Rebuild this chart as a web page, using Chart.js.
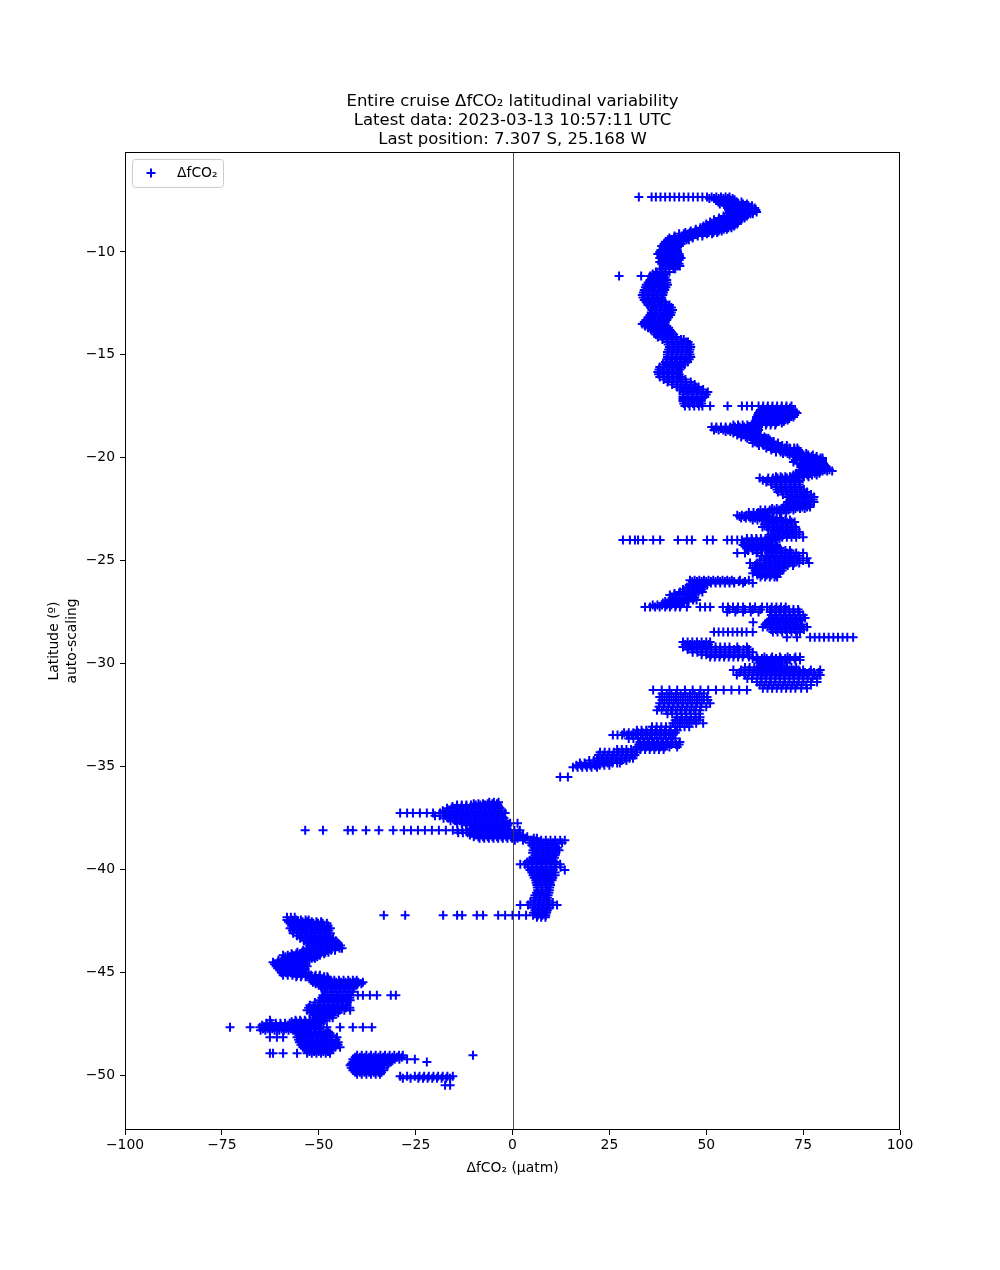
<!DOCTYPE html>
<html>
<head>
<meta charset="utf-8">
<script src="https://cdn.jsdelivr.net/npm/chart.js@4.4.1/dist/chart.umd.min.js"></script>
<style>
  html, body { margin: 0; padding: 0; background: #fff; }
  canvas { display: block; }
</style>
</head>
<body>
<canvas id="latChart" width="1000" height="1270"></canvas>
<script>
// each row: [latitude, dfCO2 values seen at that latitude ...]
const tropicsRows = [
  [-7.33, 32.6, 35.9, 37.0, 38.2, 39.4, 40.6, 41.8, 43, 44.2, 45.4, 46.6, 47.8, 49, 50.2, 51.4, 52.6, 53.8, 55, 56],
  [-7.47, 52.5, 53.7, 54.9, 56.1, 57.3],
  [-7.67, 53.5, 54.7, 55.9, 57.1, 58.3, 59.5, 60.5],
  [-7.86, 55.5, 56.7, 57.9, 59.1, 60.3, 61.5, 62.5],
  [-8.06, 56, 57.2, 58.4, 59.6, 60.8, 62, 63],
  [-8.25, 54.5, 55.7, 56.9, 58.1, 59.3, 60.5],
  [-8.44, 52, 53.2, 54.4, 55.6, 56.8, 58, 59],
  [-8.64, 50, 51.2, 52.4, 53.6, 54.8, 56, 57.2, 58],
  [-8.83, 48.5, 49.7, 50.9, 52.1, 53.3, 54.5, 55.7, 56.5],
  [-8.98, 46, 47.2, 48.4, 49.6, 50.8, 52, 53.2, 54],
  [-9.12, 43, 44.2, 45.4, 46.6, 47.8, 49, 50.2, 51.5],
  [-9.32, 40.5, 41.7, 42.9, 44.1, 45.3, 46.5],
  [-9.51, 39.5, 40.7, 41.9, 43.1, 44],
  [-9.71, 38.5, 39.7, 40.9, 42.1, 43],
  [-9.90, 38.3, 39.5, 40.7, 41.9, 42.5],
  [-10.10, 37.5, 38.7, 39.9, 41.1, 42.3, 43],
  [-10.29, 38, 39.2, 40.4, 41.6, 42.8, 43.5],
  [-10.49, 38, 39.2, 40.4, 41.6, 42.5],
  [-10.68, 39, 40.2, 41.4, 42.6, 43.2],
  [-10.97, 37, 38.2, 39.4, 40.5],
  [-11.17, 27.5, 33.2, 35.5, 36.7, 37.9, 39],
  [-11.36, 35.5, 36.7, 37.9, 39.1, 39.8],
  [-11.60, 34.5, 35.7, 36.9, 38.1, 39.3, 40],
  [-11.85, 34, 35.2, 36.4, 37.6, 38.8, 39.3],
  [-12.09, 33.5, 34.7, 35.9, 37.1, 38.3, 38.8],
  [-12.33, 34, 35.2, 36.4, 37.6, 38.6],
  [-12.58, 35, 36.2, 37.4, 38.6, 39.8, 40.5],
  [-12.82, 36, 37.2, 38.4, 39.6, 40.8, 41.3],
  [-13.06, 35.5, 36.7, 37.9, 39.1, 40.3, 40.8],
  [-13.31, 34.5, 35.7, 36.9, 38.1, 39.3, 39.8],
  [-13.50, 33.5, 34.7, 35.9, 37.1, 38.3, 39],
  [-13.69, 35, 36.2, 37.4, 38.6, 39.8, 40.3],
  [-13.89, 36.5, 37.7, 38.9, 40.1, 41],
  [-14.13, 37.5, 38.7, 39.9, 41.1, 42.2],
  [-14.38, 40, 41.2, 42.4, 43.6, 44.8, 45.3],
  [-14.62, 40.5, 41.7, 42.9, 44.1, 45.3, 46],
  [-14.86, 40, 41.2, 42.4, 43.6, 44.8, 45.6],
  [-15.10, 40, 41.2, 42.4, 43.6, 44.8, 46],
  [-15.35, 39.5, 40.7, 41.9, 43.1, 44.3, 45.2],
  [-15.59, 38, 39.2, 40.4, 41.6, 42.8, 43.6],
  [-15.83, 37.5, 38.7, 39.9, 41.1, 42.3, 42.8],
  [-16.08, 38, 39.2, 40.4, 41.6, 42.8, 43.3],
  [-16.32, 40, 41.2, 42.4, 43.6, 44.8, 46],
  [-16.56, 42.5, 43.7, 44.9, 46.1, 47.3, 48],
  [-16.81, 44, 45.2, 46.4, 47.6, 48.8, 50.4],
  [-17.05, 44, 45.2, 46.4, 47.6, 48.8, 49.6],
  [-17.24, 44, 45.2, 46.4, 47.6, 48.6],
  [-17.49, 44.5, 45.7, 46.9, 48.1, 49, 51, 55.5, 59.2, 60.5, 61.8, 63.5, 64.7, 65.9, 67.1, 68.3, 69.5, 70.7, 72],
  // in-between readings
  [-7.40, 50.8, 52, 53.2, 54.4, 55.6, 56.8],
  [-7.57, 53.1, 54.3, 55.5, 56.7, 57.9, 59.1],
  [-7.76, 54.9, 56.1, 57.3, 58.5, 59.7, 60.9, 61.8],
  [-7.96, 55.8, 57, 58.2, 59.4, 60.6, 61.8, 62.8],
  [-8.15, 55.4, 56.6, 57.8, 59, 60.2, 61.4, 62],
  [-8.35, 53.3, 54.5, 55.7, 56.9, 58.1, 59.3, 59.9],
  [-8.54, 51, 52.2, 53.4, 54.6, 55.8, 57, 58.2],
  [-8.74, 49.3, 50.5, 51.7, 52.9, 54.1, 55.3, 56.5, 57.2],
  [-8.90, 47.3, 48.5, 49.7, 50.9, 52.1, 53.3, 54.5, 55.3],
  [-9.05, 44.6, 45.8, 47, 48.2, 49.4, 50.6, 51.8, 52.8],
  [-9.22, 41.8, 43, 44.2, 45.4, 46.6, 47.8, 49],
  [-9.41, 40.1, 41.3, 42.5, 43.7, 44.9, 45.5],
  [-9.61, 39.1, 40.3, 41.5, 42.7, 43.5],
  [-9.80, 38.9, 40.1, 41.3, 42.3],
  [-10.00, 38, 39.2, 40.4, 41.6, 42.6],
  [-10.20, 38.3, 39.5, 40.7, 41.9, 43.1],
  [-10.39, 38.6, 39.8, 41, 42.2, 43],
  [-10.58, 38.5, 39.7, 40.9, 42.1, 43],
  [-10.82, 38, 39.2, 40.4, 41.6, 42],
  [-11.07, 36.2, 37.4, 38.6, 39.6],
  [-11.26, 35.9, 37.1, 38.3, 39.4],
  [-11.48, 35, 36.2, 37.4, 38.6, 39.8],
  [-11.72, 34.3, 35.5, 36.7, 37.9, 39.1, 39.6],
  [-11.97, 33.8, 35, 36.2, 37.4, 38.6, 39],
  [-12.21, 33.7, 34.9, 36.1, 37.3, 38.5],
  [-12.45, 34.5, 35.7, 36.9, 38.1, 39.3],
  [-12.70, 35.6, 36.8, 38, 39.2, 40.4, 41],
  [-12.94, 35.8, 37, 38.2, 39.4, 40.6, 41],
  [-13.18, 35, 36.2, 37.4, 38.6, 39.8, 40.3],
  [-13.40, 34, 35.2, 36.4, 37.6, 38.8, 39.4],
  [-13.60, 34.2, 35.4, 36.6, 37.8, 39, 39.8],
  [-13.79, 35.8, 37, 38.2, 39.4, 40.6],
  [-14.01, 37, 38.2, 39.4, 40.6, 41.6],
  [-14.25, 38.7, 39.9, 41.1, 42.3, 43.5, 44.2],
  [-14.50, 40.2, 41.4, 42.6, 43.8, 45, 45.8],
  [-14.74, 40.3, 41.5, 42.7, 43.9, 45.1, 45.8],
  [-14.98, 40, 41.2, 42.4, 43.6, 44.8, 45.8],
  [-15.22, 39.8, 41, 42.2, 43.4, 44.6, 45.6],
  [-15.47, 38.8, 40, 41.2, 42.4, 43.6, 44.4],
  [-15.71, 37.8, 39, 40.2, 41.4, 42.6, 43.2],
  [-15.95, 37.7, 38.9, 40.1, 41.3, 42.5, 43],
  [-16.20, 39, 40.2, 41.4, 42.6, 43.8, 44.6],
  [-16.44, 41.2, 42.4, 43.6, 44.8, 46, 47],
  [-16.68, 43.2, 44.4, 45.6, 46.8, 48, 49.2],
  [-16.93, 44, 45.2, 46.4, 47.6, 48.8, 50],
  [-17.15, 44, 45.2, 46.4, 47.6, 48.8],
  [-17.37, 44.2, 45.4, 46.6, 47.8, 48.8]
];

const subtropicsRows = [
  [-17.68, 64, 65.2, 66.4, 67.6, 68.8, 70, 71.2, 72],
  [-17.83, 63.5, 64.7, 65.9, 67.1, 68.3, 69.5, 70.7, 71.9, 73.4],
  [-18.02, 63, 64.2, 65.4, 66.6, 67.8, 69, 70.2, 71.4, 72.5],
  [-18.17, 63, 64.2, 65.4, 66.6, 67.8, 69, 70.2, 71],
  [-18.31, 62, 63.2, 64.4, 65.6, 66.8, 68, 69.5],
  [-18.51, 51.4, 52.6, 53.8, 55, 56.2, 57.4, 58.6, 59.8, 61, 62.2, 63.5],
  [-18.65, 52, 53.2, 54.4, 55.6, 56.8, 58, 59.2, 60.4, 61.6, 62.8, 63.5],
  [-18.80, 57, 58.2, 59.4, 60.6, 61.8, 63],
  [-18.99, 59, 60.2, 61.4, 62.6, 63.8, 65],
  [-19.14, 62, 63.2, 64.4, 65.6, 66.4],
  [-19.29, 62, 63.2, 64.4, 65.6, 66.8, 68.5],
  [-19.53, 65.5, 66.7, 67.9, 69.1, 70.3, 71.5, 72.7, 73.5],
  [-19.72, 68, 69.2, 70.4, 71.6, 72.8, 74],
  [-19.87, 71.5, 72.7, 73.9, 75.1, 76.3, 77.5],
  [-20.01, 73.5, 74.7, 75.9, 77.1, 78.3, 79.5, 80],
  [-20.21, 72.5, 75.5, 76.7, 77.9, 79.1, 80],
  [-20.35, 74.5, 75.7, 76.9, 78.1, 79.3, 80.5],
  [-20.50, 75, 76.2, 77.4, 78.6, 79.8, 81],
  [-20.65, 74, 75.2, 76.4, 77.6, 78.8, 80, 81.2, 82.5],
  [-20.84, 72.5, 73.7, 74.9, 76.1, 77.3, 78.5],
  [-20.99, 63.8, 66, 67.2, 68.4, 69.6, 70.8, 72, 73.5],
  [-21.18, 65.5, 66.7, 67.9, 69.1, 70.3, 71.5, 72.7, 74],
  [-21.42, 68, 69.2, 70.4, 71.6, 72.8, 74],
  [-21.67, 68.5, 69.7, 70.9, 72.1, 73.3, 74.5, 76],
  [-21.91, 71, 72.2, 73.4, 74.6, 75.8, 77, 77.8],
  [-22.15, 71, 72.2, 73.4, 74.6, 75.8, 77, 77.8],
  [-22.40, 70, 71.2, 72.4, 73.6, 74.8, 76, 76.8],
  [-22.54, 64, 65.2, 66.4, 67.6, 68.8, 70, 71.2, 72.5],
  [-22.79, 58, 59.2, 60.4, 61.6, 62.8, 64, 65.5],
  [-22.93, 59, 60.2, 61.4, 62.6, 63.8, 65, 66.2, 67.4, 69],
  [-23.13, 66, 67.2, 68.4, 69.6, 70.8, 72, 72.8],
  [-23.37, 64.5, 65.7, 66.9, 68.1, 69.3, 70.5, 71.7, 73],
  [-23.61, 67.5, 68.7, 69.9, 71.1, 72.3, 74],
  [-23.86, 66, 67.2, 68.4, 69.6, 70.8, 72, 73.2, 75],
  [-24.00, 28.5, 30.3, 31.6, 32.4, 33.7, 36.3, 38.1, 42.7, 45, 46.3, 50.2, 51.7, 55.4, 56.6, 58, 59.2, 60.5, 61.8, 63, 64.2, 65.4, 66.6, 68],
  [-24.24, 59.5, 60.7, 61.9, 63.1, 64.3, 65.5, 66.7, 68],
  [-24.39, 60.5, 61.7, 62.9, 64.1, 65.3, 66.5, 67.7, 69],
  [-24.63, 58, 60, 63, 66, 67.2, 68.4, 69.6, 70.8, 72, 73.2, 75],
  [-24.88, 65.5, 66.7, 67.9, 69.1, 70.3, 71.5, 72.7, 74, 76],
  [-25.12, 61.3, 63.2, 65.5, 66.7, 67.9, 69.1, 70.3, 71.5, 72.7, 74, 76.5],
  [-25.36, 62, 63.2, 64.4, 65.6, 66.8, 68, 69.2, 70],
  [-25.61, 62, 63.2, 64.4, 65.6, 66.8, 68, 69],
  [-25.80, 64, 65.2, 66.4, 67.6, 68.3],
  [-25.95, 45.8, 47, 48.2, 49.4, 50.6, 51.8, 53, 54.2, 55.4, 56.6, 58.7, 61],
  [-26.09, 47.6, 48.8, 50, 51.2, 52.4, 53.6, 54.8, 56, 57.2, 59.5, 62],
  [-26.29, 45, 46.2, 47.4, 48.6, 49.4],
  [-26.53, 43.2, 44.4, 45.6, 46.8, 48, 49],
  [-26.67, 40.6, 41.8, 43, 44.2, 45.4, 46.3],
  [-26.92, 40.6, 41.8, 43, 44.2, 45.4, 46.6, 47.5],
  [-27.06, 38.8, 40, 41.2, 42.4, 43.6, 44.2],
  [-27.26, 34.2, 35.5, 36.8, 38, 39.4, 40.6, 42, 43.2, 45, 48.4, 49.7, 51, 54.3, 55.6, 56.9, 58.2, 59.5, 61.3, 62.6, 64.4, 65.7, 66.9, 68.1, 69.3, 70.5],
  [-27.50, 55.4, 57.5, 59.5, 61.5, 63.5, 66.5, 67.7, 68.9, 70.1, 71.3, 72.5, 74],
  [-27.79, 67, 68.2, 69.4, 70.6, 71.8, 73, 74.2, 75.5],
  [-27.99, 62.1, 65.7, 66.9, 68.1, 69.3, 70.5, 71.7, 73.4],
  [-28.23, 64.6, 65.8, 67, 68.2, 69.4, 70.6, 71.8, 73, 74.5, 76],
  [-28.47, 52, 53.2, 54.4, 55.6, 56.8, 58, 59.2, 60.4, 62, 67.2, 68.4, 69.6, 70.8, 72, 73.2, 74.2],
  [-28.72, 70.8, 73.4, 76.8, 78, 79.2, 80.4, 81.6, 82.8, 84, 85.2, 86.4, 87.9],
  [-28.96, 44, 45.2, 46.4, 47.6, 48.8, 50, 51],
  [-29.20, 44, 45.2, 46.4, 47.6, 48.8, 50, 51.2, 52.4, 53.6, 54.8, 56, 58, 60.5],
  [-29.45, 46.5, 47.7, 48.9, 50.1, 51.3, 52.5, 53.7, 54.9, 56.1, 57.3, 58.5, 60.5, 62],
  [-29.69, 51, 52.2, 53.4, 54.6, 55.8, 57, 58.2, 59.4, 61, 63, 65, 67, 69, 71, 73, 74.2],
  [-29.83, 63.1, 64.3, 65.5, 66.7, 67.9, 69.1, 70.3, 71.5, 73, 74.2],
  [-30.08, 64, 65.2, 66.4, 67.6, 68.8, 69.5],
  [-30.32, 57, 59, 61, 63, 64.2, 65.4, 66.6, 67.8, 69, 70.2, 71.4, 72.6, 73.8, 75, 77, 79.4],
  [-30.56, 57.9, 60, 62, 64, 65.2, 66.4, 67.6, 68.8, 70, 71.2, 72.4, 73.6, 74.8, 76, 78, 79.4],
  [-30.90, 63.1, 64.3, 65.5, 66.7, 67.9, 69.1, 70.3, 71.5, 72.7, 73.9, 75.1, 77, 78.6],
  [-31.20, 64.6, 65.8, 67, 68.2, 69.4, 70.6, 71.8, 73, 74.5, 76],
  [-31.29, 36.3, 38.5, 40.5, 42.5, 44.5, 46.5, 48.5, 50.5, 52.5, 54.5, 56.5, 58.5, 60.5],
  [-31.63, 38, 39.2, 40.4, 41.6, 42.8, 44, 45.2, 46.4, 47.6, 48.8, 50.2],
  [-31.93, 38, 39.2, 40.4, 41.6, 42.8, 44, 45.2, 46.4, 47.6, 48.8, 51],
  [-32.27, 37.3, 38.5, 39.7, 40.9, 42.1, 43.3, 44.5, 45.7, 46.9, 48.4],
  [-32.61, 42.5, 43.7, 44.9, 46.1, 47.3, 48.4],
  [-32.90, 41.4, 42.6, 43.8, 45, 46.2, 47.4, 49.2],
  [-33.24, 32.1, 33.3, 34.5, 35.7, 36.9, 38.1, 39.3, 40.5, 42.5],
  [-33.48, 25.9, 27.1, 28.3, 29.5, 30.7, 31.9, 33.1, 34.3, 35.5, 36.7, 37.9, 39.1, 40.3, 41.4],
  [-33.82, 32.9, 34.1, 35.3, 36.5, 37.7, 38.9, 40.1, 41.3, 43.2],
  [-34.06, 32.1, 33.3, 34.5, 35.7, 36.9, 38.1, 39.3, 40.5, 42.5],
  [-34.31, 22.6, 23.8, 25, 26.2, 27.4, 28.6, 29.8, 31, 32.1],
  [-34.60, 21.8, 23, 24.2, 25.4, 26.6, 27.8, 29, 30.2, 31.1],
  [-34.84, 17.4, 18.6, 19.8, 21, 22.2, 23.4, 24.6, 25.8, 27, 27.7],
  [-35.04, 15.6, 16.8, 18, 19.2, 20.4, 21.8],
  [-35.52, 12.3, 14.3],
  // in-between readings
  [-17.59, 64.6, 65.8, 67, 68.2, 69.4, 70.6, 71.6],
  [-17.76, 63.8, 65, 66.2, 67.4, 68.6, 69.8, 71, 72.2, 73],
  [-17.93, 63.3, 64.5, 65.7, 66.9, 68.1, 69.3, 70.5, 71.7, 72.8],
  [-18.10, 63, 64.2, 65.4, 66.6, 67.8, 69, 70.2, 71.4],
  [-18.24, 62.6, 63.8, 65, 66.2, 67.4, 68.6, 70],
  [-18.41, 57, 58.2, 59.4, 60.6, 61.8, 63, 64.2, 65.4, 66.6, 67.8],
  [-18.58, 52.6, 53.8, 55, 56.2, 57.4, 58.6, 59.8, 61, 62.2, 63.2],
  [-18.72, 55, 56.2, 57.4, 58.6, 59.8, 61, 62.2, 63.2],
  [-18.90, 58, 59.2, 60.4, 61.6, 62.8, 64],
  [-19.06, 60.6, 61.8, 63, 64.2, 65.4, 66],
  [-19.21, 62.6, 63.8, 65, 66.2, 67.4],
  [-19.41, 63.6, 64.8, 66, 67.2, 68.4, 69.6, 70.8],
  [-19.62, 66.8, 68, 69.2, 70.4, 71.6, 72.8, 73.8],
  [-19.80, 69.8, 71, 72.2, 73.4, 74.6, 75.8],
  [-19.94, 72.5, 73.7, 74.9, 76.1, 77.3, 78.5],
  [-20.11, 73, 74.2, 75.4, 76.6, 77.8, 79, 80],
  [-20.28, 73.5, 74.7, 75.9, 77.1, 78.3, 79.5, 80.3],
  [-20.43, 74.8, 76, 77.2, 78.4, 79.6, 80.8],
  [-20.58, 74.6, 75.8, 77, 78.2, 79.4, 80.6, 81.8],
  [-20.75, 73.2, 74.4, 75.6, 76.8, 78, 79.2],
  [-20.92, 68, 69.2, 70.4, 71.6, 72.8, 74, 75.2, 76.4],
  [-21.09, 64.6, 65.8, 67, 68.2, 69.4, 70.6, 71.8, 73, 74],
  [-21.30, 66.8, 68, 69.2, 70.4, 71.6, 72.8, 74],
  [-21.55, 68.2, 69.4, 70.6, 71.8, 73, 74.2, 75.2],
  [-21.79, 69.8, 71, 72.2, 73.4, 74.6, 75.8, 77],
  [-22.03, 71.6, 72.8, 74, 75.2, 76.4, 77.6],
  [-22.28, 70.6, 71.8, 73, 74.2, 75.4, 76.6],
  [-22.47, 67, 68.2, 69.4, 70.6, 71.8, 73, 74.2, 75.4],
  [-22.66, 61, 62.2, 63.4, 64.6, 65.8, 67, 68.2, 69.4, 70.6],
  [-22.86, 58.6, 59.8, 61, 62.2, 63.4, 64.6, 65.8],
  [-23.03, 62, 63.2, 64.4, 65.6, 66.8, 68, 69.2, 70.4, 71.6],
  [-23.25, 65, 66.2, 67.4, 68.6, 69.8, 71, 72.2],
  [-23.49, 66, 67.2, 68.4, 69.6, 70.8, 72, 73.2],
  [-23.73, 66.6, 67.8, 69, 70.2, 71.4, 72.6, 74],
  [-23.93, 60.5, 61.7, 62.9, 64.1, 65.3, 66.5, 67.7, 68.9],
  [-24.12, 59.8, 61, 62.2, 63.4, 64.6, 65.8, 67],
  [-24.31, 60, 61.2, 62.4, 63.6, 64.8, 66, 67.2, 68.4],
  [-24.51, 60.8, 62, 63.2, 64.4, 65.6, 66.8, 68, 69.2, 70.4, 71.6],
  [-24.76, 64.2, 65.4, 66.6, 67.8, 69, 70.2, 71.4, 72.6, 73.8],
  [-25.00, 63.8, 65, 66.2, 67.4, 68.6, 69.8, 71, 72.2, 73.4, 75],
  [-25.24, 62.6, 63.8, 65, 66.2, 67.4, 68.6, 69.8, 71, 72.4],
  [-25.48, 62.6, 63.8, 65, 66.2, 67.4, 68.6, 69.6],
  [-25.70, 63.2, 64.4, 65.6, 66.8, 68],
  [-26.02, 46.4, 47.6, 48.8, 50, 51.2, 52.4, 53.6, 54.8, 56, 57.2, 58.4, 60],
  [-26.19, 45.6, 46.8, 48, 49.2, 50.2],
  [-26.41, 44, 45.2, 46.4, 47.6, 48.8],
  [-26.60, 41.8, 43, 44.2, 45.4, 46.6, 47.4],
  [-26.80, 41.2, 42.4, 43.6, 44.8, 46, 47],
  [-26.99, 39.4, 40.6, 41.8, 43, 44.2, 45.4],
  [-27.16, 36.2, 37.4, 38.6, 39.8, 41, 42.2, 43.4],
  [-27.38, 56, 58, 60, 62, 64, 66.5, 67.7, 68.9, 70.1, 71.3, 72.5, 73.7],
  [-27.64, 66.8, 68, 69.2, 70.4, 71.6, 72.8, 74, 75],
  [-27.89, 66.2, 67.4, 68.6, 69.8, 71, 72.2, 73.4, 74.4],
  [-28.11, 65.2, 66.4, 67.6, 68.8, 70, 71.2, 72.4, 73.6, 74.8],
  [-28.35, 66.8, 68, 69.2, 70.4, 71.6, 72.8, 74, 75.2],
  [-29.08, 44.6, 45.8, 47, 48.2, 49.4, 50.6],
  [-29.32, 45.2, 46.4, 47.6, 48.8, 50, 51.2, 52.4, 53.6, 54.8, 56, 57.2, 58.4, 59.6, 61],
  [-29.57, 48.8, 50, 51.2, 52.4, 53.6, 54.8, 56, 57.2, 58.4, 59.6, 60.8],
  [-29.76, 62, 63.2, 64.4, 65.6, 66.8, 68, 69.2, 70.4, 71.6, 72.8],
  [-29.95, 63.6, 64.8, 66, 67.2, 68.4, 69.6, 70.8],
  [-30.20, 60, 61.2, 62.4, 63.6, 64.8, 66, 67.2, 68.4, 69.6, 70.8, 72, 73.2],
  [-30.44, 58.6, 59.8, 61, 62.2, 63.4, 64.6, 65.8, 67, 68.2, 69.4, 70.6, 71.8, 73, 74.2, 75.4, 76.6, 77.8, 79],
  [-30.73, 60.6, 61.8, 63, 64.2, 65.4, 66.6, 67.8, 69, 70.2, 71.4, 72.6, 73.8, 75, 76.2, 77.4, 78.6],
  [-31.05, 63.8, 65, 66.2, 67.4, 68.6, 69.8, 71, 72.2, 73.4, 74.6, 75.8, 77],
  [-31.46, 38.6, 39.8, 41, 42.2, 43.4, 44.6, 45.8, 47, 48.2, 49.4],
  [-31.78, 38.6, 39.8, 41, 42.2, 43.4, 44.6, 45.8, 47, 48.2, 49.4, 50.4],
  [-32.10, 37.8, 39, 40.2, 41.4, 42.6, 43.8, 45, 46.2, 47.4, 48.6, 50],
  [-32.44, 40, 41.2, 42.4, 43.6, 44.8, 46, 47.2, 48.2],
  [-32.76, 42, 43.2, 44.4, 45.6, 46.8, 48],
  [-33.07, 36, 37.2, 38.4, 39.6, 40.8, 42, 43.2, 44.4, 45.6],
  [-33.36, 28.8, 30, 31.2, 32.4, 33.6, 34.8, 36, 37.2, 38.4, 39.6, 40.8, 42],
  [-33.65, 30, 31.2, 32.4, 33.6, 34.8, 36, 37.2, 38.4, 39.6, 40.8, 42],
  [-33.94, 32.6, 33.8, 35, 36.2, 37.4, 38.6, 39.8, 41, 42.2, 43],
  [-34.18, 27, 28.2, 29.4, 30.6, 31.8, 33, 34.2, 35.4, 36.6, 37.8, 39],
  [-34.45, 22.2, 23.4, 24.6, 25.8, 27, 28.2, 29.4, 30.6, 31.6],
  [-34.72, 19.8, 21, 22.2, 23.4, 24.6, 25.8, 27, 28.2, 29.4],
  [-34.94, 16.5, 17.7, 18.9, 20.1, 21.3, 22.5, 23.7, 25]
];

const frontRows = [
  [-36.74, -6, -4.8, -3.6],
  [-36.88, -14.3, -13.1, -11.9, -10.7, -9.5, -8.3, -7.1, -5.9, -4.7, -3.8],
  [-37.03, -16.9, -15.7, -14.5, -13.3, -12.1, -10.9, -9.7, -8.5, -7.3, -6.1, -4.9, -3.2],
  [-37.27, -29, -27.2, -25.7, -23.9, -22.1, -20.5, -18.7, -17.5, -16.3, -15.1, -13.9, -12.7, -11.5, -10.3, -9.1, -7.9, -6.7, -5.5, -4.3, -3.1, -1.9],
  [-37.52, -17.8, -16.6, -15.4, -14.2, -13, -11.8, -10.6, -9.4, -8.2, -7, -5.8, -4.6, -3.4, -2.2],
  [-37.76, -14.3, -13.1, -11.9, -10.7, -9.5, -8.3, -7.1, -5.9, -4.7, -3.5, -2.3, -0.6, 1.3],
  [-37.95, -10, -8.8, -7.6, -6.4, -5.2, -4, -2.8, -2],
  [-38.10, -53.5, -48.9, -42.5, -41.2, -37.8, -34.5, -30.8, -28, -26.2, -24.4, -22.6, -20.8, -19, -17.2, -15.4, -14.2, -13, -11.8, -10.6, -9.4, -8.2, -7, -5.8, -4.6, -3.4, -2.2, -1, 0.5, 1.9],
  [-38.34, -11, -9.8, -8.6, -7.4, -6.2, -5, -3.8, -2.6, -1.4, -0.2, 1, 2.7],
  [-38.49, -8.5, -7.3, -6.1, -4.9, -3.7, -2.5, -1.3, -0.1, 1.3, 3.2, 5.5, 6.3],
  [-38.59, 0.6, 2.7, 5, 6.2, 7.4, 8.6, 9.8, 11, 12.3, 13.5],
  [-38.83, 5, 6.2, 7.4, 8.6, 9.8, 11],
  [-39.08, 5.3, 6.5, 7.7, 8.9, 10.1, 11.3, 12],
  [-39.32, 5.8, 7, 8.2, 9.4, 10.6, 11],
  [-39.56, 4.5, 5.7, 6.9, 8.1, 9.3, 10.5],
  [-39.75, 2, 3.2, 5, 6.2, 7.4, 8.6, 9.8, 11, 12.3],
  [-40.04, 4.5, 5.7, 6.9, 8.1, 9.3, 10.5, 13.5],
  [-40.29, 5.3, 6.5, 7.7, 8.9, 10.1, 11],
  [-40.53, 6, 7.2, 8.4, 9.6, 10.2],
  [-40.77, 6.3, 7.5, 8.7, 9.8],
  [-41.02, 6.5, 7.7, 8.9, 9.5],
  [-41.26, 5.8, 7, 8.2, 9.2],
  [-41.50, 5.8, 7, 8.2, 9],
  [-41.74, 2, 4, 5.5, 6.7, 7.9, 9.1, 10.3, 11.5],
  [-41.99, 5.8, 7, 8.2, 9],
  [-42.23, -33.2, -27.7, -17.9, -14.3, -13, -9.2, -7.6, -3.7, -1.9, 0, 1.7, 3.5, 5.3, 6.5, 7.7, 8.6],
  [-42.33, 6.3, 7.4, 8.5],
  // in-between readings
  [-36.81, -10, -8.8, -7.6, -6.4, -5.2, -4],
  [-36.95, -15.5, -14.3, -13.1, -11.9, -10.7, -9.5, -8.3, -7.1, -5.9, -4.7, -3.6],
  [-37.15, -18, -16.8, -15.6, -14.4, -13.2, -12, -10.8, -9.6, -8.4, -7.2, -6, -4.8, -3.6, -2.6],
  [-37.40, -20, -18.8, -17.2, -16, -14.8, -13.6, -12.4, -11.2, -10, -8.8, -7.6, -6.4, -5.2, -4, -2.8],
  [-37.64, -16, -14.8, -13.6, -12.4, -11.2, -10, -8.8, -7.6, -6.4, -5.2, -4, -2.8, -1.6],
  [-37.86, -12, -10.8, -9.6, -8.4, -7.2, -6, -4.8, -3.6, -2.4, -1.2],
  [-38.02, -11, -9.8, -8.6, -7.4, -6.2, -5, -3.8, -2.6, -1.4],
  [-38.22, -14, -12.8, -11.6, -10.4, -9.2, -8, -6.8, -5.6, -4.4, -3.2, -2, -0.8, 0.4, 1.6],
  [-38.42, -10, -8.8, -7.6, -6.4, -5.2, -4, -2.8, -1.6, -0.4, 0.8, 2, 3.8],
  [-38.71, 4.4, 5.6, 6.8, 8, 9.2, 10.4, 11.6, 12.8],
  [-38.95, 5.6, 6.8, 8, 9.2, 10.4, 11.6],
  [-39.20, 5.2, 6.4, 7.6, 8.8, 10, 11.2],
  [-39.44, 5.2, 6.4, 7.6, 8.8, 10, 10.8],
  [-39.65, 3.8, 5, 6.2, 7.4, 8.6, 9.8, 11],
  [-39.90, 4, 5.2, 6.4, 7.6, 8.8, 10, 11.2, 12.4],
  [-40.16, 5, 6.2, 7.4, 8.6, 9.8, 11],
  [-40.41, 5.6, 6.8, 8, 9.2, 10.4],
  [-40.65, 6.1, 7.3, 8.5, 9.7],
  [-40.89, 6.4, 7.6, 8.8, 9.6],
  [-41.14, 6.2, 7.4, 8.6, 9.4],
  [-41.38, 5.6, 6.8, 8, 9],
  [-41.62, 4.6, 5.8, 7, 8.2, 9.4, 10.4],
  [-41.87, 5.2, 6.4, 7.6, 8.8, 9.6],
  [-42.11, 5.4, 6.6, 7.8, 8.8]
];

const southRows = [
  [-42.33, -58.2, -57.2, -56.2],
  [-42.47, -58.2, -57, -55.8, -54.6, -53.4, -52.6],
  [-42.62, -57.4, -56.2, -55, -53.8, -52.6, -51.4, -50.2, -49, -47.9],
  [-42.86, -57.4, -56.2, -55, -53.8, -52.6, -51.4, -50.2, -49, -47.8, -47],
  [-43.11, -56.6, -55.4, -54.2, -53, -51.8, -50.6, -49.4, -48.2, -47],
  [-43.35, -54.8, -53.6, -52.4, -51.2, -50, -48.8, -47.6, -46.3],
  [-43.59, -53, -51.8, -50.6, -49.4, -48.2, -47, -45.8, -45],
  [-43.84, -53, -51.8, -50.6, -49.4, -48.2, -47, -45.8, -44.6, -44],
  [-44.03, -55.5, -54.3, -53.1, -51.9, -50.7, -49.5, -48.3, -47.5],
  [-44.18, -59.2, -58, -56.8, -55.6, -54.4, -53.2, -52, -50.8, -49.7],
  [-44.32, -59, -57.8, -56.6, -55.4, -54.2, -53, -51.8, -51],
  [-44.52, -61.8, -60.6, -59.4, -58.2, -57, -55.8, -54.6, -53.8],
  [-44.71, -61, -59.8, -58.6, -57.4, -56.2, -55, -53.8, -53],
  [-44.91, -60, -58.8, -57.6, -56.4, -55.2, -54],
  [-45.15, -59.2, -58, -56.8, -55.6, -54.4, -53.2, -52, -50.8, -49.7],
  [-45.29, -52.3, -51.1, -49.9, -48.7, -47.6],
  [-45.49, -51.5, -50.3, -49.1, -47.9, -46.7, -45.5, -44.3, -43.1, -41.9, -40.7, -39.8, -38.6],
  [-45.63, -50, -48.8, -47.6, -46.4, -45.2, -44, -42.8, -41.6, -40.4],
  [-45.78, -49, -47.8, -46.6, -45.4, -44.2, -43, -41.8, -41],
  [-46.12, -48.9, -47.7, -46.5, -45.3, -44.1, -42.9, -41.7, -39.9, -38.6, -36.8, -35, -31.4, -30.1],
  [-46.36, -49.7, -48.5, -47.3, -46.1, -44.9, -43.7, -42.5, -41.9],
  [-46.61, -52.3, -51.1, -49.9, -48.7, -47.5, -46.3, -45.1, -43.9, -42.7],
  [-46.85, -53, -51.8, -50.6, -49.4, -48.2, -47, -45.8, -44.6, -43.4, -41.9],
  [-47.09, -51.5, -50.3, -49.1, -47.9, -46.7, -46.3],
  [-47.34, -62.6, -56, -54.8, -53.6, -52.4, -51.2, -50, -48.5],
  [-47.48, -63.5, -62.3, -61.1, -59.9, -58.7, -57.5, -56.3, -55.1, -53.9, -52.7, -51.5, -50.3, -49.5],
  [-47.68, -72.9, -67.7, -65.2, -64, -62.8, -61.6, -60.4, -59.2, -58, -56.8, -55.6, -54.4, -53.2, -52, -50.8, -49.6, -47.9, -44.5, -41.2, -38.6, -36.3],
  [-47.82, -65, -63.8, -62.6, -61.4, -60.2, -59, -57.8, -56.6, -55.4, -54.2, -53],
  [-47.97, -55.5, -54.3, -53.1, -51.9, -50.7, -49.5, -48.3, -47.1],
  [-48.16, -62.6, -60.8, -59.2, -55.6, -54.4, -53.2, -52, -50.8, -49.6, -48.4, -47.2, -45.3],
  [-48.41, -55, -53.8, -52.6, -51.4, -50.2, -49, -47.8, -46.6, -45],
  [-48.65, -54.1, -52.9, -51.7, -50.5, -49.3, -48.1, -46.9, -45.7, -44.5],
  [-48.79, -53, -51.8, -50.6, -49.4, -48.2, -47],
  [-48.94, -62.6, -61.8, -59.2, -55.6, -53, -51.8, -50.6, -49.4, -48.2, -47.1],
  [-49.04, -40.1, -38.9, -37.7, -36.5, -35.3, -34.1, -32.9, -31.7, -30.5, -29.3, -28.3, -10.2],
  [-49.23, -41.2, -40, -38.8, -37.6, -36.4, -35.2, -34, -32.8, -31.6, -30.4, -29.2, -27.2, -25.2],
  [-49.37, -41.2, -40, -38.8, -37.6, -36.4, -35.2, -34, -32.8, -31.5, -22.1],
  [-49.52, -41.9, -40.7, -39.5, -38.3, -37.1, -35.9, -34.7, -33.5, -32.3],
  [-49.77, -41.2, -40, -38.8, -37.6, -36.4, -35.2, -34, -33.2],
  [-49.96, -40.1, -38.9, -37.7, -36.5, -35.3, -34.2],
  [-50.06, -29, -27.2, -25.2, -24, -22.8, -21.6, -20.4, -19.2, -18, -16.8, -15.4],
  [-50.16, -28.3, -26.3, -24.3, -23.1, -21.9, -20.7, -19.5, -18.3, -17.1, -16.1],
  [-50.50, -17.4, -16.1],
  // in-between readings
  [-42.55, -57.8, -56.6, -55.4, -54.2, -53, -51.8, -50.6, -49.4],
  [-42.74, -57, -55.8, -54.6, -53.4, -52.2, -51, -49.8, -48.6, -47.6],
  [-42.98, -56.8, -55.6, -54.4, -53.2, -52, -50.8, -49.6, -48.4, -47.4],
  [-43.23, -55.6, -54.4, -53.2, -52, -50.8, -49.6, -48.4, -47.2],
  [-43.47, -53.8, -52.6, -51.4, -50.2, -49, -47.8, -46.6, -45.6],
  [-43.71, -52.4, -51.2, -50, -48.8, -47.6, -46.4, -45.2, -44.4],
  [-43.94, -54, -52.8, -51.6, -50.4, -49.2, -48, -46.8, -45.8],
  [-44.10, -57, -55.8, -54.6, -53.4, -52.2, -51, -49.8, -48.6],
  [-44.25, -58.6, -57.4, -56.2, -55, -53.8, -52.6, -51.4, -50.4],
  [-44.42, -60.4, -59.2, -58, -56.8, -55.6, -54.4, -53.2, -52.4],
  [-44.61, -61.4, -60.2, -59, -57.8, -56.6, -55.4, -54.2, -53.4],
  [-44.81, -60.6, -59.4, -58.2, -57, -55.8, -54.6, -53.6],
  [-45.03, -59.6, -58.4, -57.2, -56, -54.8, -53.6, -52.6],
  [-45.22, -55.8, -54.6, -53.4, -52.2, -51, -49.8, -48.6, -47.8],
  [-45.39, -52, -50.8, -49.6, -48.4, -47.2, -46, -44.8, -43.6, -42.4, -41.2, -40.2],
  [-45.56, -50.8, -49.6, -48.4, -47.2, -46, -44.8, -43.6, -42.4, -41.2, -40, -39],
  [-45.70, -49.4, -48.2, -47, -45.8, -44.6, -43.4, -42.2, -41],
  [-45.95, -48.4, -47.2, -46, -44.8, -43.6, -42.4, -41.2],
  [-46.24, -49.2, -48, -46.8, -45.6, -44.4, -43.2, -42],
  [-46.48, -51, -49.8, -48.6, -47.4, -46.2, -45, -43.8, -42.6],
  [-46.73, -52.6, -51.4, -50.2, -49, -47.8, -46.6, -45.4, -44.2, -43, -42],
  [-46.97, -52.2, -51, -49.8, -48.6, -47.4, -46.2, -45],
  [-47.21, -50.8, -49.6, -48.4, -47.2, -46.4],
  [-47.41, -57, -55.8, -54.6, -53.4, -52.2, -51, -49.8, -48.8],
  [-47.58, -64.6, -63.4, -62.2, -61, -59.8, -58.6, -57.4, -56.2, -55, -53.8, -52.6, -51.4, -50.2],
  [-47.75, -64.4, -63.2, -62, -60.8, -59.6, -58.4, -57.2, -56, -54.8, -53.6, -52.4, -51.2, -50],
  [-47.90, -56, -54.8, -53.6, -52.4, -51.2, -50, -48.8, -47.6],
  [-48.06, -55, -53.8, -52.6, -51.4, -50.2, -49, -47.8, -46.6],
  [-48.28, -55.2, -54, -52.8, -51.6, -50.4, -49.2, -48, -46.8, -45.6],
  [-48.53, -54.6, -53.4, -52.2, -51, -49.8, -48.6, -47.4, -46.2, -45],
  [-48.72, -53.6, -52.4, -51.2, -50, -48.8, -47.6, -46.4],
  [-48.86, -52.4, -51.2, -50, -48.8, -47.6],
  [-49.13, -40.6, -39.4, -38.2, -37, -35.8, -34.6, -33.4, -32.2, -31, -29.8, -28.6],
  [-49.30, -40.6, -39.4, -38.2, -37, -35.8, -34.6, -33.4, -32.2, -31],
  [-49.45, -41.6, -40.4, -39.2, -38, -36.8, -35.6, -34.4, -33.2, -32],
  [-49.65, -41.6, -40.4, -39.2, -38, -36.8, -35.6, -34.4, -33.2],
  [-49.86, -40.6, -39.4, -38.2, -37, -35.8, -34.6, -33.8]
];

const xTickValues = [-100, -75, -50, -25, 0, 25, 50, 75, 100];
const yTickValues = [-50, -45, -40, -35, -30, -25, -20, -15, -10];
const titleLines = [
  'Entire cruise ΔfCO₂ latitudinal variability',
  'Latest data: 2023-03-13 10:57:11 UTC',
  'Last position: 7.307 S, 25.168 W'
];

const points = [];
[].concat(tropicsRows, subtropicsRows, frontRows, southRows).forEach(r => {
  for (let i = 1; i < r.length; i++) points.push({ x: r[i], y: r[0] });
});

Chart.defaults.font.family = 'DejaVu Sans';
Chart.defaults.color = '#000';

const minusSign = v => String(v).replace('-', '\u2212');

// frame, zero line and the little legend box
const decor = {
  id: 'decor',
  afterDatasetsDraw(chart) {
    const { ctx, chartArea: a, scales } = chart;
    const x0 = Math.round(scales.x.getPixelForValue(0)) + 0.5;
    ctx.save();
    ctx.strokeStyle = '#3a3a3a';
    ctx.lineWidth = 0.9;
    ctx.beginPath();
    ctx.moveTo(x0, a.top);
    ctx.lineTo(x0, a.bottom);
    ctx.stroke();
    ctx.restore();
  },
  afterDraw(chart) {
    const { ctx, chartArea: a } = chart;
    ctx.save();
    ctx.strokeStyle = '#000';
    ctx.lineWidth = 1;
    ctx.strokeRect(Math.round(a.left) + 0.5, Math.round(a.top) + 0.5,
      Math.round(a.right - a.left) - 1, Math.round(a.bottom - a.top) - 1);

    // legend
    const lx = a.left + 7.5, ly = a.top + 7.5, lw = 91, lh = 28;
    ctx.beginPath();
    ctx.roundRect(lx, ly, lw, lh, 3);
    ctx.fillStyle = 'rgba(255,255,255,0.8)';
    ctx.fill();
    ctx.strokeStyle = '#cccccc';
    ctx.stroke();
    const mx = a.left + 26, my = a.top + 21;
    ctx.strokeStyle = '#0000ff';
    ctx.lineWidth = 2;
    ctx.beginPath();
    ctx.moveTo(mx - 4.5, my); ctx.lineTo(mx + 4.5, my);
    ctx.moveTo(mx, my - 4.5); ctx.lineTo(mx, my + 4.5);
    ctx.stroke();
    ctx.fillStyle = '#000';
    ctx.font = '13.9px "DejaVu Sans"';
    ctx.textBaseline = 'middle';
    ctx.textAlign = 'left';
    ctx.fillText(chart.data.datasets[0].label, a.left + 52, my);
    ctx.restore();
  }
};

new Chart(document.getElementById('latChart'), {
  type: 'scatter',
  data: {
    datasets: [{
      label: 'ΔfCO₂',
      data: points,
      pointStyle: 'cross',
      pointRadius: 4.5,
      pointHoverRadius: 4.5,
      pointBorderWidth: 2,
      borderColor: '#0000ff',
      backgroundColor: '#0000ff'
    }]
  },
  options: {
    responsive: false,
    animation: false,
    devicePixelRatio: 1,
    events: [],
    layout: { padding: { left: 0, right: 100, top: 0, bottom: 0 } },
    plugins: {
      legend: { display: false },
      tooltip: { enabled: false },
      title: {
        display: true,
        fullSize: false,
        text: titleLines,
        color: '#000',
        font: { size: 16.5, weight: 'normal', lineHeight: 1.15 },
        padding: { top: 92.5, bottom: 2.5 }
      }
    },
    scales: {
      x: {
        type: 'linear',
        min: -100,
        max: 100,
        afterBuildTicks: s => { s.ticks = xTickValues.map(v => ({ value: v })); },
        afterFit: s => { s.height = 140; },
        grid: { drawOnChartArea: false, tickLength: 5, color: '#000', tickColor: '#000' },
        border: { display: false },
        ticks: { padding: 2, maxRotation: 0, font: { size: 13.9 }, callback: minusSign },
        title: {
          display: true,
          text: 'ΔfCO₂ (µatm)',
          font: { size: 13.9, lineHeight: 1.25 },
          padding: { top: 0, bottom: 93 }
        }
      },
      y: {
        type: 'linear',
        min: -52.67,
        max: -5.14,
        afterBuildTicks: s => { s.ticks = yTickValues.map(v => ({ value: v })); },
        afterFit: s => { s.width = 125; },
        grid: { drawOnChartArea: false, tickLength: 5, color: '#000', tickColor: '#000' },
        border: { display: false },
        ticks: { padding: 5, font: { size: 13.9 }, callback: minusSign },
        title: {
          display: true,
          text: ['Latitude (º)', 'auto-scaling'],
          font: { size: 13.9, lineHeight: 1.25 },
          padding: { top: 46, bottom: 0 }
        }
      }
    }
  },
  plugins: [decor]
});
</script>
</body>
</html>
